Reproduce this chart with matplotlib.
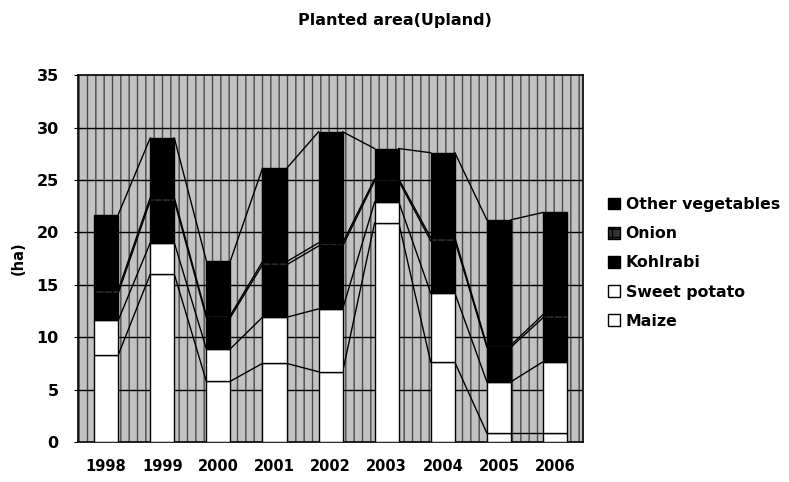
import matplotlib.pyplot as plt
import numpy as np
from matplotlib.patches import Rectangle

years = ["1998", "1999", "2000", "2001", "2002", "2003", "2004", "2005", "2006"]
maize = [8.3, 16.0, 5.8, 7.5, 6.7, 20.9, 7.6, 0.85, 0.85]
sweet_potato = [3.3, 3.0, 3.1, 4.4, 6.0, 2.0, 6.6, 4.9, 6.8]
kohlrabi = [2.6, 4.0, 3.0, 5.0, 6.0, 2.0, 5.0, 3.3, 4.2]
onion = [0.3, 0.3, 0.2, 0.3, 0.3, 0.2, 0.3, 0.2, 0.3]
other_veg = [7.2, 5.7, 5.2, 8.9, 10.6, 2.9, 8.1, 11.95, 9.75]

series = [
    ("Maize", maize, "white", None),
    ("Sweet potato", sweet_potato, "white", None),
    ("Kohlrabi", kohlrabi, "black", None),
    ("Onion", onion, "#333333", "++"),
    ("Other vegetables", other_veg, "black", None),
]

plt.rcParams["font.family"] = "DejaVu Sans"
plt.rcParams["hatch.color"] = "white"

fig = plt.figure(figsize=(7.89, 4.82), dpi=100)
ax = fig.add_axes([0.099, 0.083, 0.64, 0.761])

x = np.arange(len(years))
w = 0.43

# noisy grey plot area of the scan
ax.set_facecolor("#c2c2c2")
ax.add_patch(Rectangle((0, 0), 1, 1, transform=ax.transAxes, facecolor="none",
                       hatch="||", edgecolor="#4a4a4a", lw=0, zorder=0))
for yv in range(5, 35, 5):
    ax.axhline(yv, color="black", lw=1.0, zorder=1)

bottom = np.zeros(len(years))
handles = []
for name, vals, col, hatch in series:
    vals = np.array(vals)
    h = ax.bar(x, vals, w, bottom=bottom, color=col, edgecolor="black", lw=1.0,
               hatch=hatch, label=name, zorder=3)
    handles.append(h)
    top = bottom + vals
    # series lines between neighbouring bars
    for i in range(len(years) - 1):
        ax.plot([x[i] + w / 2, x[i + 1] - w / 2], [top[i], top[i + 1]],
                color="black", lw=1.0, zorder=2)
    bottom = top

ax.set_xlim(-0.5, len(years) - 0.5)
ax.set_ylim(0, 35)
ax.set_yticks(range(0, 36, 5))
ax.set_xticks(x)
ax.set_xticklabels(years, fontsize=10.5, fontweight="bold")
ax.tick_params(axis="y", labelsize=11.5, length=3, pad=11)
ax.tick_params(axis="x", length=0, pad=12)
for lab in ax.get_yticklabels():
    lab.set_fontweight("bold")
for s in ax.spines.values():
    s.set_linewidth(1.2)

ax.set_ylabel("(ha)", fontsize=10.5, fontweight="bold", labelpad=8)
fig.text(0.5, 0.958, "Planted area(Upland)", ha="center", va="center",
         fontsize=11.5, fontweight="bold")

leg = fig.legend(handles[::-1], [s[0] for s in series][::-1], loc="upper left",
                 bbox_to_anchor=(0.763, 0.604), frameon=False, borderaxespad=0,
                 prop={"size": 11.3, "weight": "bold"}, handlelength=0.75,
                 handleheight=0.75, handletextpad=0.35, labelspacing=0.9)

fig.savefig("out.png", dpi=100)
